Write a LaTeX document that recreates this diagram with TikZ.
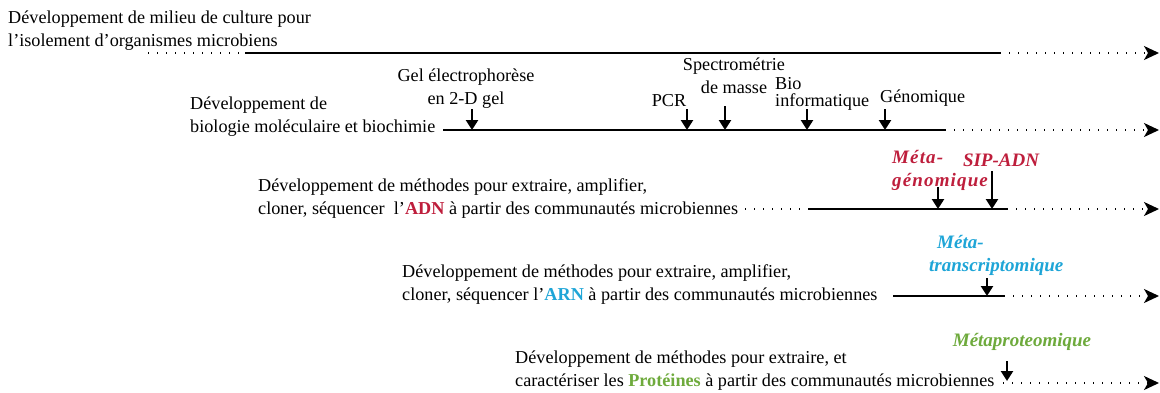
\documentclass[tikz,border=0pt]{standalone}
\usepackage{fontspec}
\setmainfont{Liberation Serif}
\usetikzlibrary{arrows.meta}
\usetikzlibrary{positioning}
\definecolor{adnred}{RGB}{190,30,60}
\definecolor{arnblue}{RGB}{30,165,215}
\definecolor{protgreen}{RGB}{110,170,60}

\begin{document}
\begin{tikzpicture}[x=1pt,y=1pt,yscale=-1,xscale=1]
  \useasboundingbox (0,0) rectangle (1160,392);
  \tikzstyle{lbl} = [inner sep=0pt,anchor=base west,align=left,font=\fontsize{18.2}{22.5}\selectfont]
  \tikzstyle{tech} = [inner sep=0pt,anchor=base,align=center,font=\fontsize{18.2}{22.5}\selectfont]
  \tikzstyle{meta} = [tech,font=\fontsize{19}{22.5}\selectfont\bfseries\itshape]
  \tikzstyle{trait} = [line width=1.6pt]
  \tikzstyle{pointilles} = [line width=1.6pt,dash pattern=on 1.2pt off 7.8pt]
  \tikzstyle{suite} = [pointilles,-{Stealth[length=15pt,width=14pt,inset=4pt]}]
  \tikzstyle{fleche} = [line width=2.4pt,-{Triangle[length=10pt,width=12pt]}]

  % Texts on the left of each line (anchored at the last line)
  \node[lbl] (txtCulture) at (8,46) {Développement de milieu de culture pour\\l’isolement d’organismes microbiens};
  \node[lbl] (txtBiomol) at (190,132) {Développement de\\biologie moléculaire et biochimie};
  \node[lbl] (txtADN) at (258,214) {Développement de méthodes pour extraire, amplifier,\\cloner, séquencer\ \ l’\textbf{\color{adnred}ADN} à partir des communautés microbiennes};
  \node[lbl] (txtARN) at (402,300) {Développement de méthodes pour extraire, amplifier,\\cloner, séquencer l’\textbf{\color{arnblue}ARN} à partir des communautés microbiennes};
  \node[lbl] (txtProt) at (515,386) {Développement de méthodes pour extraire, et\\caractériser les \textbf{\color{protgreen}Protéines} à partir des communautés microbiennes};

  % Techniques
  \node[tech] (gel) at (466,104) {Gel électrophorèse\\en 2-D gel};
  \node[tech] (pcr) at (669,106) {PCR};
  \node[tech] (spectro) at (734,93) {Spectrométrie\\de masse};
  \node[lbl] (bioinfo) at (775,106) {Bio\\[-6pt]informatique};
  \node[lbl] (genomique) at (880,102) {Génomique};
  \node[meta,text=adnred,anchor=base west,align=left,font=\fontsize{19}{22.5}\selectfont\bfseries\itshape\addfontfeature{LetterSpace=6}] (metagen) at (892,186) {Méta-\\génomique};
  \node[meta,text=adnred] (sipadn) at (1001,166) {SIP-ADN};
  \node[meta,text=arnblue,anchor=base west,align=left] (metatrans) at (929,271) {\hspace*{8pt}Méta-\\transcriptomique};
  \node[meta,text=protgreen] (metaprot) at (1022,346) {Métaproteomique};

  % Line 1
  \coordinate (a1) at (148,53); \coordinate (b1) at (245,53);
  \coordinate (c1) at (1000,53); \coordinate (d1) at (1159,53);
  \draw[pointilles] (a1) -- (b1);
  \draw[trait] (b1) -- (c1);
  \draw[suite] (c1) -- (d1);

  % Line 2
  \coordinate (b2) at (443,130); \coordinate (c2) at (945,130); \coordinate (d2) at (1159,130);
  \draw[trait] (b2) -- (c2);
  \draw[suite] (c2) -- (d2);

  % Line 3
  \coordinate (a3) at (745,209); \coordinate (b3) at (808,209);
  \coordinate (c3) at (1007,209); \coordinate (d3) at (1159,209);
  \draw[pointilles] (a3) -- (b3);
  \draw[trait] (b3) -- (c3);
  \draw[suite] (c3) -- (d3);

  % Line 4
  \coordinate (b4) at (893,296); \coordinate (c4) at (1004,296); \coordinate (d4) at (1159,296);
  \draw[trait] (b4) -- (c4);
  \draw[suite] (c4) -- (d4);

  % Line 5
  \coordinate (c5) at (1003,383); \coordinate (d5) at (1159,383);
  \draw[suite] (c5) -- (d5);

  % Draw the arrows
  \coordinate (gelA) at (472,109); \coordinate (gelB) at (472,130);
  \coordinate (pcrA) at (687,109); \coordinate (pcrB) at (687,130);
  \coordinate (specA) at (725,106); \coordinate (specB) at (725,130);
  \coordinate (bioA) at (807,109); \coordinate (bioB) at (807,130);
  \coordinate (genA) at (885,109); \coordinate (genB) at (885,130);
  \coordinate (mgA) at (938,187); \coordinate (mgB) at (938,209);
  \coordinate (sipA) at (992,171); \coordinate (sipB) at (992,209);
  \coordinate (mtA) at (987,278); \coordinate (mtB) at (987,296);
  \coordinate (mpA) at (1007,361); \coordinate (mpB) at (1007,381);
  \draw[fleche] (gelA) -- (gelB);
  \draw[fleche] (pcrA) -- (pcrB);
  \draw[fleche] (specA) -- (specB);
  \draw[fleche] (bioA) -- (bioB);
  \draw[fleche] (genA) -- (genB);
  \draw[fleche] (mgA) -- (mgB);
  \draw[fleche] (sipA) -- (sipB);
  \draw[fleche] (mtA) -- (mtB);
  \draw[fleche] (mpA) -- (mpB);
\end{tikzpicture}
\end{document}
